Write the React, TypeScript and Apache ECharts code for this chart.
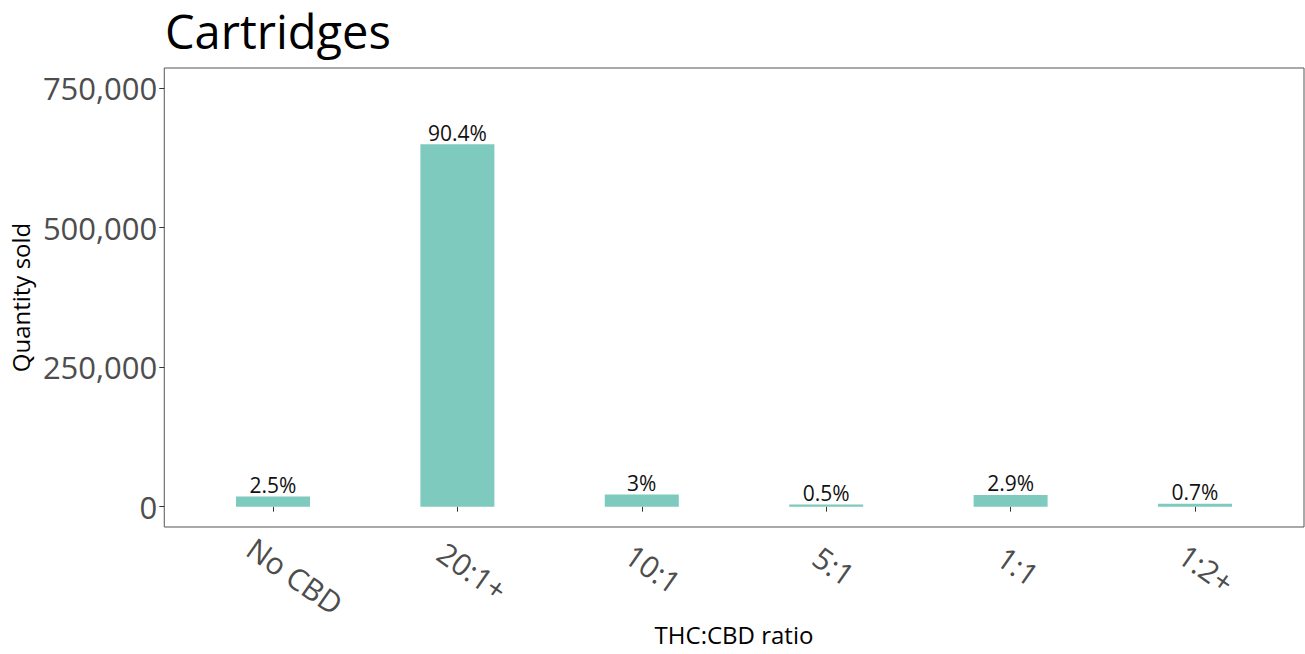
import React, { useEffect, useRef } from "react";
import * as echarts from "echarts";

const categories = ["No CBD", "20:1+", "10:1", "5:1", "1:1", "1:2+"];
const quantities = [18000, 649500, 21600, 3600, 20900, 5000];
const shareLabels = ["2.5%", "90.4%", "3%", "0.5%", "2.9%", "0.7%"];
const yTicks = [0, 250000, 500000, 750000];

const FONT = "Open Sans";
const Y_MIN = -36500;
const Y_MAX = 786000;
const X_LABEL_SIZE = 30;

function measure(text: string, size: number): number {
  const ctx = document.createElement("canvas").getContext("2d");
  if (!ctx) return text.length * size * 0.55;
  ctx.font = `${size}px "${FONT}"`;
  return ctx.measureText(text).width;
}

export default function App() {
  const ref = useRef<HTMLDivElement>(null);
  useEffect(() => {
    if (!ref.current) return;
    const chart = echarts.init(ref.current, null, { renderer: "svg" });
    chart.setOption({
      animation: false,
      textStyle: { fontFamily: FONT },
      title: {
        text: "Cartridges",
        left: 160,
        top: 2,
        padding: [4, 5, 4, 5],
        textStyle: { fontFamily: FONT, fontSize: 47, fontWeight: "normal", color: "#000", lineHeight: 50 },
      },
      grid: [
        { left: 164, right: 1, top: 68, bottom: 127, show: true, borderColor: "#555", borderWidth: 1, backgroundColor: "transparent" },
        { left: 180.8, right: 17.8, top: 68, bottom: 127 },
      ],
      xAxis: [
        { type: "value", gridIndex: 0, show: false, min: 0, max: 1 },
        {
          type: "category",
          gridIndex: 1,
          data: categories,
          axisLine: { show: false },
          axisTick: { show: true, alignWithLabel: true, length: 5, lineStyle: { color: "#333" } },
          axisLabel: { show: false },
          name: "THC:CBD ratio",
          nameLocation: "middle",
          nameGap: 95,
          nameTextStyle: { fontFamily: FONT, fontSize: 24, color: "#000" },
        },
      ],
      yAxis: [
        {
          type: "value",
          gridIndex: 0,
          min: Y_MIN,
          max: Y_MAX,
          splitLine: { show: false },
          axisLine: { show: false },
          axisTick: { show: true, length: 5, lineStyle: { color: "#333" }, customValues: yTicks },
          axisLabel: {
            margin: 7,
            fontFamily: FONT,
            fontSize: 31,
            color: "#4D4D4D",
            customValues: yTicks,
            formatter: (v: number) => v.toLocaleString("en-US"),
          },
          name: "Quantity sold",
          nameLocation: "middle",
          nameGap: 131,
          nameTextStyle: { fontFamily: FONT, fontSize: 24, color: "#000" },
        },
        { type: "value", gridIndex: 1, min: Y_MIN, max: Y_MAX, show: false },
      ],
      series: [
        {
          type: "bar",
          xAxisIndex: 1,
          yAxisIndex: 1,
          data: quantities,
          barWidth: 74,
          itemStyle: { color: "#7ECABE" },
          label: {
            show: true,
            position: "top",
            distance: 1,
            fontFamily: FONT,
            fontSize: 21,
            color: "#111",
            formatter: (p: any) => shareLabels[p.dataIndex],
          },
        },
      ],
    });
    const graphics = categories.map((c) => {
      const px = chart.convertToPixel({ xAxisIndex: 1 }, c) as number;
      const L = measure(c, X_LABEL_SIZE);
      return {
        type: "text",
        x: px,
        y: 532,
        rotation: (-35 * Math.PI) / 180,
        style: {
          text: c,
          x: 14.6 + 0.264 * L,
          y: 23.5,
          align: "center",
          verticalAlign: "middle",
          fontFamily: FONT,
          fontSize: X_LABEL_SIZE,
          fill: "#4D4D4D",
        },
      };
    });
    chart.setOption({ graphic: graphics });
    return () => chart.dispose();
  }, []);
  return <div ref={ref} style={{ position: "absolute", left: 0, top: 0, width: 1305, height: 654 }} />;
}
